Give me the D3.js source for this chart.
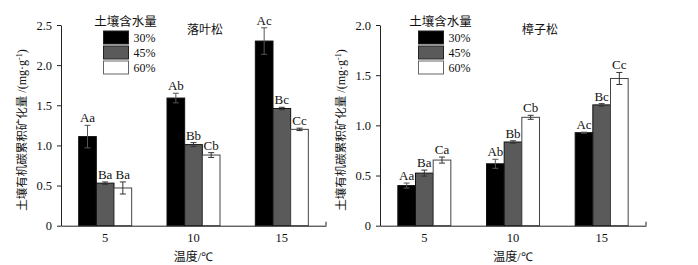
<!DOCTYPE html>
<html>
<head>
<meta charset="utf-8">
<script src="https://cdn.jsdelivr.net/npm/d3@7"></script>
<style>
  body { margin: 0; background: #fff; }
  svg { display: block; }
  text { font-family: "Liberation Serif", "Times New Roman", serif; fill: #111; }
  .cjk { font-family: "Noto Sans CJK SC", sans-serif; }
</style>
</head>
<body>
<div id="chart"></div>
<script>
// temperature groups and moisture levels
const temps = ["5", "10", "15"];
const moisture = ["30%", "45%", "60%"];

// 落叶松 (larch) – cumulative mineralisation, mg/g
const larch30 = [1.11, 1.59, 2.30];
const larch45 = [0.53, 1.01, 1.46];
const larch60 = [0.47, 0.88, 1.20];
const larchErr30 = [0.14, 0.06, 0.165];
const larchErr45 = [0.015, 0.025, 0.015];
const larchErr60 = [0.075, 0.03, 0.015];
const larchLetters30 = ["Aa", "Ab", "Ac"];
const larchLetters45 = ["Ba", "Bb", "Bc"];
const larchLetters60 = ["Ba", "Cb", "Cc"];

// 樟子松 (Mongolian pine)
const pine30 = [0.40, 0.617, 0.927];
const pine45 = [0.524, 0.834, 1.204];
const pine60 = [0.654, 1.08, 1.467];
const pineErr30 = [0.025, 0.045, 0.005];
const pineErr45 = [0.03, 0.012, 0.012];
const pineErr60 = [0.03, 0.02, 0.06];
const pineLetters30 = ["Aa", "Ab", "Ac"];
const pineLetters45 = ["Ba", "Bb", "Bc"];
const pineLetters60 = ["Ca", "Cb", "Cc"];

const larchTicks = [0, 0.5, 1.0, 1.5, 2.0, 2.5];
const pineTicks = [0, 0.5, 1.0, 1.5, 2.0];

const fills = ["#000000", "#5a5a5a", "#ffffff"];

const svg = d3.select("#chart").append("svg")
    .attr("width", 698)
    .attr("height", 265);

function drawPanel(p) {
    const g = svg.append("g");
    const x0 = d3.scaleBand().domain(temps).range([p.left, p.right]);
    const bw = x0.bandwidth();
    const x1 = d3.scaleBand().domain(moisture)
        .range([bw / 2 - 26.5, bw / 2 + 26.5]);
    const y = d3.scaleLinear().domain([0, p.max]).range([225.7, 25]);

    // rows: one per bar
    const rows = [];
    temps.forEach((t, i) => {
        moisture.forEach((m, j) => {
            rows.push({
                t, m, j,
                v: p.series[j][i],
                e: p.errs[j][i],
                lab: p.letters[j][i]
            });
        });
    });

    g.selectAll("rect.bar")
        .data(rows)
        .enter()
        .append("rect")
            .attr("class", "bar")
            .attr("x", d => x0(d.t) + x1(d.m))
            .attr("y", d => y(d.v))
            .attr("width", x1.bandwidth())
            .attr("height", d => y(0) - y(d.v))
            .attr("fill", d => fills[d.j])
            .attr("stroke", d => d.j === 2 ? "#444" : "#111")
            .attr("stroke-width", 1);

    // error bars
    const eb = g.selectAll("g.err")
        .data(rows)
        .enter()
        .append("g")
            .attr("class", "err")
            .attr("stroke", d => d.j === 0 ? "#555" : "#333")
            .attr("stroke-width", 1);
    eb.append("line")
        .attr("x1", d => x0(d.t) + x1(d.m) + x1.bandwidth() / 2)
        .attr("x2", d => x0(d.t) + x1(d.m) + x1.bandwidth() / 2)
        .attr("y1", d => y(d.v - d.e))
        .attr("y2", d => y(d.v + d.e));
    [-1, 1].forEach(s => {
        eb.append("line")
            .attr("x1", d => x0(d.t) + x1(d.m) + x1.bandwidth() / 2 - 3)
            .attr("x2", d => x0(d.t) + x1(d.m) + x1.bandwidth() / 2 + 3)
            .attr("y1", d => y(d.v + s * d.e))
            .attr("y2", d => y(d.v + s * d.e));
    });

    // significance letters
    g.selectAll("text.sig")
        .data(rows)
        .enter()
        .append("text")
            .attr("class", "sig")
            .attr("x", d => x0(d.t) + x1(d.m) + x1.bandwidth() / 2)
            .attr("y", d => y(d.v + d.e) - 3)
            .attr("text-anchor", "middle")
            .attr("font-size", "13px")
            .text(d => d.lab);

    // y axis
    const yAxis = g.append("g")
        .attr("transform", `translate(${p.left},0)`)
        .call(d3.axisLeft(y)
            .tickValues(p.ticks)
            .tickSize(4)
            .tickSizeOuter(0)
            .tickFormat(d => d === 0 ? "0" : d3.format(".1f")(d)));
    yAxis.selectAll("text")
        .attr("font-size", "12.5px")
        .attr("font-family", "Liberation Serif, serif")
        .attr("fill", "#222")
        .attr("dx", "-2");
    yAxis.selectAll("line, path").attr("stroke", "#222");

    // x axis
    const xAxis = g.append("g")
        .attr("transform", `translate(0,${y(0)})`)
        .call(d3.axisBottom(x0).tickSize(0).tickSizeOuter(0));
    xAxis.selectAll("text")
        .attr("font-size", "12.5px")
        .attr("font-family", "Liberation Serif, serif")
        .attr("fill", "#222")
        .attr("dy", "1.1em");
    xAxis.select("path").attr("stroke", "#222");
    g.append("line")
        .attr("x1", p.right).attr("x2", p.right)
        .attr("y1", y(0) - 4).attr("y2", y(0))
        .attr("stroke", "#222");

    // axis titles
    const xl = g.append("text")
        .attr("x", (p.left + p.right) / 2)
        .attr("y", 261)
        .attr("text-anchor", "middle")
        .attr("font-size", "12px");
    xl.append("tspan").attr("class", "cjk").text("温度");
    xl.append("tspan").text("/℃");

    const yl = g.append("text")
        .attr("transform", `translate(${p.left - 35},130) rotate(-90)`)
        .attr("text-anchor", "middle")
        .attr("font-size", "12px");
    yl.append("tspan").attr("class", "cjk").attr("font-size", "11.5px").text("土壤有机碳累积矿化量");
    yl.append("tspan").text(" /(mg·g");
    yl.append("tspan").attr("dy", "-4").attr("font-size", "8px").text("-1");
    yl.append("tspan").attr("dy", "4").text(")");

    // panel title
    g.append("text")
        .attr("class", "cjk")
        .attr("x", p.titleX)
        .attr("y", 34)
        .attr("text-anchor", "middle")
        .attr("font-size", "12px")
        .text(p.title);

    // legend
    const lx = p.legendX;
    g.append("text")
        .attr("class", "cjk")
        .attr("x", lx + 22)
        .attr("y", 26)
        .attr("text-anchor", "middle")
        .attr("font-size", "12.5px")
        .text("土壤含水量");
    const leg = g.selectAll("g.leg")
        .data(moisture)
        .enter()
        .append("g")
            .attr("class", "leg")
            .attr("transform", (d, i) => `translate(${lx},${31 + i * 15})`);
    leg.append("rect")
        .attr("width", 25)
        .attr("height", 13)
        .attr("fill", (d, i) => fills[i])
        .attr("stroke", (d, i) => i === 2 ? "#666" : "#222");
    leg.append("text")
        .attr("x", 30)
        .attr("y", 11)
        .attr("font-size", "12px")
        .text(d => d);
}

drawPanel({
    left: 61, right: 326, max: 2.5, ticks: larchTicks,
    series: [larch30, larch45, larch60],
    errs: [larchErr30, larchErr45, larchErr60],
    letters: [larchLetters30, larchLetters45, larchLetters60],
    title: "落叶松", titleX: 205, legendX: 103.5
});

drawPanel({
    left: 380, right: 646, max: 2.0, ticks: pineTicks,
    series: [pine30, pine45, pine60],
    errs: [pineErr30, pineErr45, pineErr60],
    letters: [pineLetters30, pineLetters45, pineLetters60],
    title: "樟子松", titleX: 540, legendX: 418.5
});
</script>
</body>
</html>
